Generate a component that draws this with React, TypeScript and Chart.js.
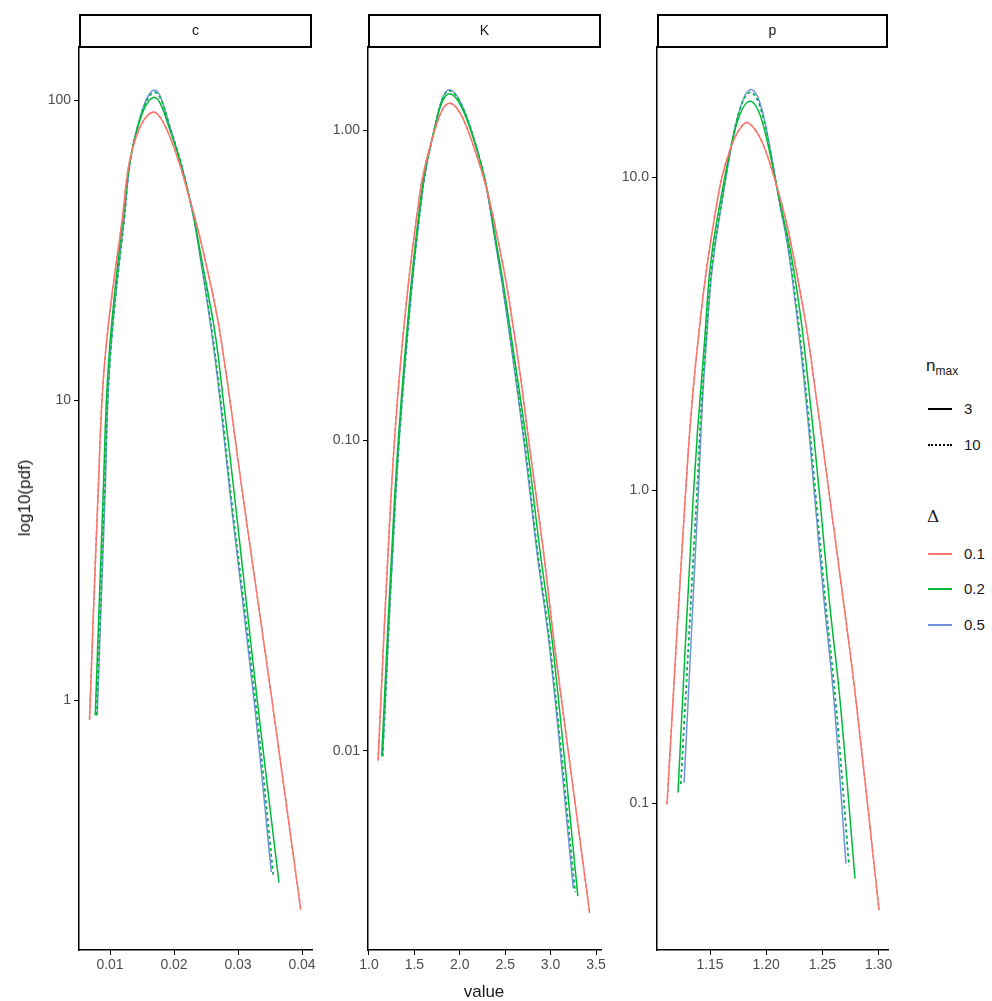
import { Chart, registerables } from "chart.js";
import { useRef, useEffect } from "react";

Chart.register(...registerables);

const RED = "#F8766D";
const GREEN = "#00BA38";
const BLUE = "#6F93D8";
const FONT = "'Liberation Sans', Arial, sans-serif";

// panel c
const cRedX = [0.0068, 0.0081, 0.0092, 0.0119, 0.0136, 0.0166, 0.01911, 0.0225, 0.02511, 0.02719, 0.03086, 0.0353, 0.0398];
const cRedY = [0.86, 4.64, 13.6, 39.8, 69.8, 91, 77.6, 46.4, 27.8, 16.7, 4.64, 1.0, 0.2];
const cGreenX = [0.0077, 0.0089, 0.0098, 0.012, 0.0138, 0.0168, 0.01953, 0.0225, 0.02453, 0.02641, 0.0277, 0.02953, 0.033, 0.0364];
const cGreenY = [0.89, 4.64, 13.6, 39.8, 73.6, 102, 77.6, 46.4, 27.8, 16.7, 10, 4.64, 1.0, 0.246];
const cBlueX = [0.008, 0.0092, 0.01, 0.0122, 0.0138, 0.0169, 0.01964, 0.0225, 0.02433, 0.02589, 0.02719, 0.02886, 0.0325, 0.0352];
const cBlueY = [0.89, 4.64, 13.6, 39.8, 73.6, 108, 77.6, 46.4, 27.8, 16.7, 10, 4.64, 1.0, 0.267];
const cDashX = [0.0079, 0.0091, 0.01, 0.0122, 0.0138, 0.0169, 0.01966, 0.0225, 0.02438, 0.02597, 0.02728, 0.02898, 0.0327, 0.0355];
const cDashY = [0.89, 4.64, 13.6, 39.8, 73.6, 106, 77.6, 46.4, 27.8, 16.7, 10, 4.64, 1.0, 0.262];

// panel K
const kRedX = [1.1, 1.24, 1.35, 1.52, 1.67, 1.89, 2.167, 2.443, 2.627, 2.773, 2.92, 3.05, 3.43];
const kRedY = [0.0093, 0.064, 0.181, 0.512, 0.88, 1.22, 0.862, 0.41, 0.195, 0.0929, 0.0442, 0.021, 0.003];
const kGreenX = [1.14, 1.28, 1.39, 1.54, 1.68, 1.89, 2.19, 2.417, 2.589, 2.748, 2.883, 3.03, 3.3];
const kGreenY = [0.0096, 0.064, 0.181, 0.512, 0.9, 1.31, 0.862, 0.41, 0.195, 0.0929, 0.0442, 0.021, 0.0034];
const kBlueX = [1.15, 1.29, 1.4, 1.55, 1.69, 1.89, 2.193, 2.406, 2.572, 2.718, 2.847, 2.993, 3.25];
const kBlueY = [0.0096, 0.064, 0.181, 0.512, 0.92, 1.35, 0.862, 0.41, 0.195, 0.0929, 0.0442, 0.021, 0.0036];
const kDashX = [1.15, 1.29, 1.4, 1.55, 1.69, 1.89, 2.193, 2.41, 2.578, 2.725, 2.855, 3.0, 3.27];
const kDashY = [0.0096, 0.064, 0.181, 0.512, 0.92, 1.34, 0.862, 0.41, 0.195, 0.0929, 0.0442, 0.021, 0.0035];

// panel p
const pRedX = [1.1117, 1.1278, 1.1375, 1.1536, 1.1687, 1.1847, 1.2079, 1.2316, 1.2449, 1.2568, 1.2686, 1.2799, 1.3004];
const pRedY = [0.099, 0.93, 2.6, 7.3, 12.5, 14.9, 9.78, 4.05, 1.94, 0.929, 0.445, 0.213, 0.0455];
const pGreenX = [1.1215, 1.1349, 1.1438, 1.1562, 1.1856, 1.2158, 1.2286, 1.239, 1.2479, 1.2561, 1.2657, 1.279];
const pGreenY = [0.108, 0.93, 2.6, 7.3, 17.5, 7.3, 4.05, 1.94, 0.929, 0.445, 0.213, 0.0574];
const pBlueX = [1.1269, 1.1393, 1.1456, 1.158, 1.1865, 1.2149, 1.2256, 1.2354, 1.2434, 1.2514, 1.2603, 1.271];
const pBlueY = [0.116, 0.93, 2.6, 7.3, 19.1, 7.3, 4.05, 1.94, 0.929, 0.445, 0.213, 0.064];
const pDashX = [1.124, 1.138, 1.145, 1.1575, 1.186, 1.2152, 1.2262, 1.2362, 1.2444, 1.2526, 1.2617, 1.2737];
const pDashY = [0.115, 0.93, 2.6, 7.3, 18.7, 7.3, 4.05, 1.94, 0.929, 0.445, 0.213, 0.063];

const cXTicks = [0.01, 0.02, 0.03, 0.04];
const kXTicks = [1.0, 1.5, 2.0, 2.5, 3.0, 3.5];
const pXTicks = [1.15, 1.2, 1.25, 1.3];
const cYTicks = [1, 10, 100];
const kYTicks = [0.01, 0.1, 1];
const pYTicks = [0.1, 1, 10];

const pts = (xs: number[], ys: number[]) => xs.map((x, i) => ({ x, y: ys[i] }));

type Panel = {
  strip: string;
  left: number;
  width: number;
  yWidth: number;
  padRight: number;
  xMin: number;
  xMax: number;
  yMin: number;
  yMax: number;
  xTicks: number[];
  xDec: number;
  yTicks: number[];
  yDec: number;
  curves: { x: number[]; y: number[]; color: string; dash: boolean }[];
};

const panels: Panel[] = [
  {
    strip: "c", left: 0, width: 320, yWidth: 79, padRight: 8,
    xMin: 0.005156, xMax: 0.04156, yMin: 0.1468, yMax: 150.2,
    xTicks: cXTicks, xDec: 2, yTicks: cYTicks, yDec: 0,
    curves: [
      { x: cRedX, y: cRedY, color: RED, dash: false },
      { x: cRedX, y: cRedY, color: RED, dash: true },
      { x: cGreenX, y: cGreenY, color: GREEN, dash: false },
      { x: cDashX, y: cDashY, color: GREEN, dash: true },
      { x: cBlueX, y: cBlueY, color: BLUE, dash: false },
      { x: cDashX, y: cDashY, color: BLUE, dash: true },
    ],
  },
  {
    strip: "K", left: 320, width: 290, yWidth: 48, padRight: 9,
    xMin: 0.989, xMax: 3.555, yMin: 0.00228, yMax: 1.853,
    xTicks: kXTicks, xDec: 1, yTicks: kYTicks, yDec: 2,
    curves: [
      { x: kRedX, y: kRedY, color: RED, dash: false },
      { x: kRedX, y: kRedY, color: RED, dash: true },
      { x: kGreenX, y: kGreenY, color: GREEN, dash: false },
      { x: kDashX, y: kDashY, color: GREEN, dash: true },
      { x: kBlueX, y: kBlueY, color: BLUE, dash: false },
      { x: kDashX, y: kDashY, color: BLUE, dash: true },
    ],
  },
  {
    strip: "p", left: 610, width: 290, yWidth: 47, padRight: 12,
    xMin: 1.1028, xMax: 1.3084, yMin: 0.0339, yMax: 26.1,
    xTicks: pXTicks, xDec: 2, yTicks: pYTicks, yDec: 1,
    curves: [
      { x: pRedX, y: pRedY, color: RED, dash: false },
      { x: pRedX, y: pRedY, color: RED, dash: true },
      { x: pGreenX, y: pGreenY, color: GREEN, dash: false },
      { x: pDashX, y: pDashY, color: GREEN, dash: true },
      { x: pBlueX, y: pBlueY, color: BLUE, dash: false },
      { x: pDashX, y: pDashY, color: BLUE, dash: true },
    ],
  },
];

const stripPlugin = {
  id: "strip",
  afterDraw(chart: any, _a: any, opts: any) {
    const { ctx, chartArea } = chart;
    ctx.save();
    ctx.fillStyle = "#fff";
    ctx.strokeStyle = "#000";
    ctx.lineWidth = 2;
    ctx.fillRect(chartArea.left, 14, chartArea.right - chartArea.left, 33);
    ctx.strokeRect(chartArea.left + 1, 15, chartArea.right - chartArea.left - 2, 32);
    ctx.fillStyle = "#1a1a1a";
    ctx.font = `14px ${FONT}`;
    ctx.textAlign = "center";
    ctx.textBaseline = "middle";
    ctx.fillText(opts.text, (chartArea.left + chartArea.right) / 2, 31);
    ctx.restore();
  },
};

function PanelChart({ p }: { p: Panel }) {
  const ref = useRef<HTMLCanvasElement | null>(null);
  useEffect(() => {
    if (!ref.current) return;
    const chart = new Chart(ref.current, {
      type: "line",
      data: {
        datasets: p.curves.map((c) => ({
          data: pts(c.x, c.y),
          borderColor: c.color,
          borderWidth: 1.5,
          borderDash: c.dash ? [3, 3] : [],
          pointRadius: 0,
          tension: 0.4,
          fill: false,
        })),
      },
      options: {
        animation: false,
        responsive: false,
        layout: { padding: { top: 47, right: p.padRight, left: 0, bottom: 0 } },
        plugins: {
          legend: { display: false },
          tooltip: { enabled: false },
          strip: { text: p.strip },
        } as any,
        scales: {
          x: {
            type: "linear",
            min: p.xMin,
            max: p.xMax,
            afterBuildTicks: (s: any) => { s.ticks = p.xTicks.map((v) => ({ value: v })); },
            afterFit: (s: any) => { s.height = 51; },
            ticks: {
              color: "#4d4d4d",
              font: { family: FONT, size: 14 },
              padding: 2,
              maxRotation: 0,
              callback: (v: any) => Number(v).toFixed(p.xDec),
            },
            grid: { drawOnChartArea: false, tickLength: 5, color: "#000", tickWidth: 1 },
            border: { display: true, color: "#000", width: 1.5 },
          },
          y: {
            type: "logarithmic",
            min: p.yMin,
            max: p.yMax,
            afterBuildTicks: (s: any) => { s.ticks = p.yTicks.map((v) => ({ value: v })); },
            afterFit: (s: any) => { s.width = p.yWidth; },
            ticks: {
              color: "#4d4d4d",
              font: { family: FONT, size: 14 },
              padding: 3,
              callback: (v: any) => Number(v).toFixed(p.yDec),
            },
            grid: { drawOnChartArea: false, tickLength: 5, color: "#000", tickWidth: 1 },
            border: { display: true, color: "#000", width: 1.5 },
          },
        },
      },
      plugins: [stripPlugin],
    });
    return () => chart.destroy();
  }, [p]);
  return (
    <canvas
      ref={ref}
      width={p.width}
      height={1001}
      style={{ position: "absolute", left: p.left, top: 0, width: p.width, height: 1001 }}
    />
  );
}

const line = (color: string, dash: boolean) => (
  <div
    style={{
      width: 24,
      height: 0,
      borderTop: `2px ${dash ? "dotted" : "solid"} ${color}`,
    }}
  />
);

const legendRow = (top: number, color: string, dash: boolean, label: string) => (
  <div style={{ position: "absolute", left: 928, top, display: "flex", alignItems: "center", gap: 12 }}>
    {line(color, dash)}
    <span>{label}</span>
  </div>
);

export default function App() {
  useEffect(() => {
    document.body.style.margin = "0";
  }, []);
  return (
    <div style={{ position: "relative", width: 992, height: 1001, background: "#fff", fontFamily: FONT, fontSize: 15, color: "#1a1a1a" }}>
      {panels.map((p) => (
        <PanelChart key={p.strip} p={p} />
      ))}
      <div style={{ position: "absolute", left: 25, top: 498, transform: "translate(-50%, -50%) rotate(-90deg)", fontSize: 17, whiteSpace: "nowrap" }}>
        log10(pdf)
      </div>
      <div style={{ position: "absolute", left: 484, top: 992, transform: "translate(-50%, -50%)", fontSize: 17 }}>value</div>
      <div style={{ position: "absolute", left: 926, top: 356, fontSize: 17 }}>
        n<sub style={{ fontSize: 12 }}>max</sub>
      </div>
      {legendRow(400, "#000", false, "3")}
      {legendRow(436, "#000", true, "10")}
      <div style={{ position: "absolute", left: 927, top: 506, fontSize: 17, fontFamily: "'DejaVu Serif', serif" }}>Δ</div>
      {legendRow(545, RED, false, "0.1")}
      {legendRow(580, GREEN, false, "0.2")}
      {legendRow(616, BLUE, false, "0.5")}
    </div>
  );
}
